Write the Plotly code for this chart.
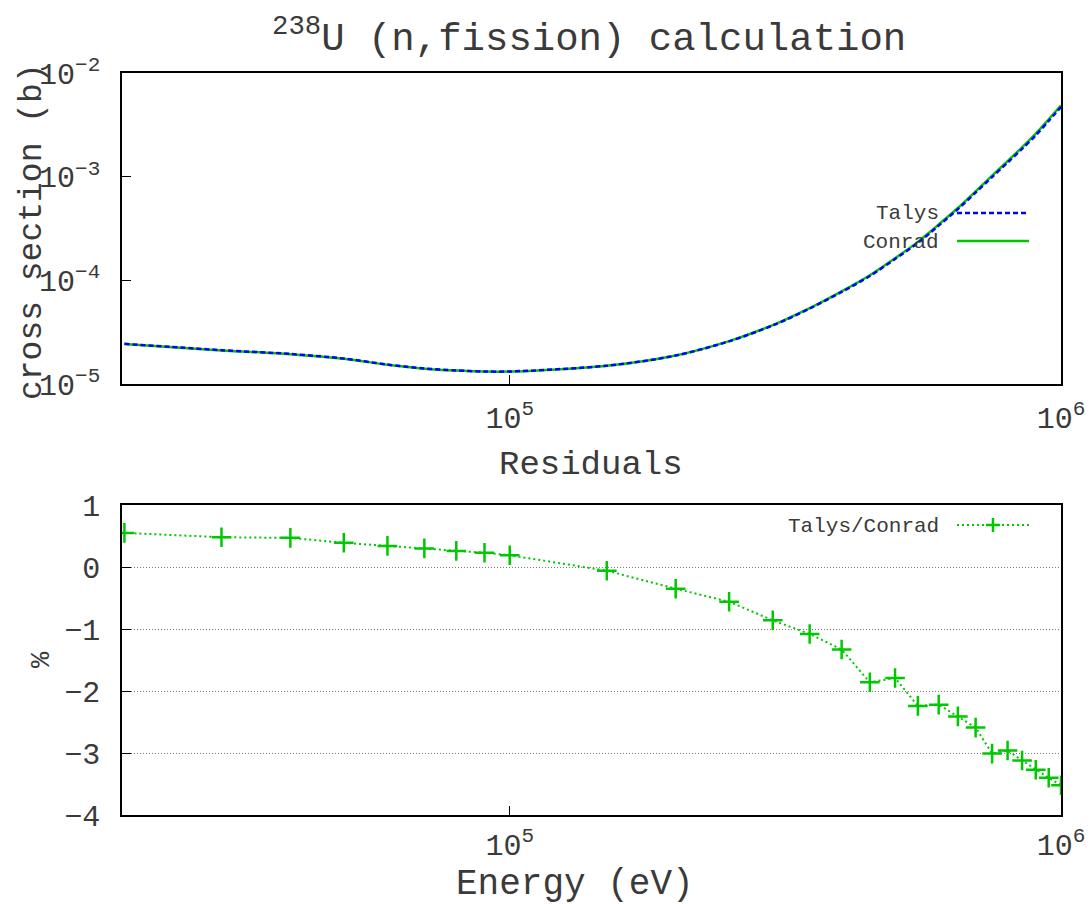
import numpy as np
import plotly.graph_objects as go

# Incident neutron energies (eV)
energy = [2e4, 3e4, 4e4, 5e4, 6e4, 7e4, 8e4, 9e4, 1e5,
          1.5e5, 2e5, 2.5e5, 3e5, 3.5e5, 4e5, 4.5e5, 5e5, 5.5e5,
          6e5, 6.5e5, 7e5, 7.5e5, 8e5, 8.5e5, 9e5, 9.5e5, 1e6]

# 238U (n,fission) cross sections (b)
talys_xs = [2.44e-5, 2.12e-5, 1.95e-5, 1.76e-5, 1.54e-5, 1.41e-5, 1.35e-5, 1.32e-5, 1.32e-5,
            1.50e-5, 1.88e-5, 2.58e-5, 3.67e-5, 5.34e-5, 7.73e-5, 1.10e-4, 1.605e-4, 2.297e-4,
            3.376e-4, 4.86e-4, 7.03e-4, 9.93e-4, 1.369e-3, 1.855e-3, 2.51e-3, 3.45e-3, 4.70e-3]
conrad_xs = [2.427e-5, 2.110e-5, 1.941e-5, 1.753e-5, 1.535e-5, 1.406e-5, 1.347e-5, 1.317e-5, 1.317e-5,
             1.501e-5, 1.887e-5, 2.595e-5, 3.702e-5, 5.398e-5, 7.834e-5, 1.121e-4, 1.634e-4, 2.350e-4,
             3.453e-4, 4.980e-4, 7.217e-4, 1.0238e-3, 1.4108e-3, 1.9147e-3, 2.595e-3, 3.571e-3, 4.871e-3]

# Talys/Conrad residuals (%)
residual_pct = [0.55, 0.48, 0.47, 0.39, 0.34, 0.30, 0.26, 0.23, 0.19,
                -0.06, -0.35, -0.56, -0.86, -1.08, -1.33, -1.86, -1.79, -2.24,
                -2.22, -2.41, -2.59, -3.01, -2.96, -3.12, -3.27, -3.40, -3.52]

x_ticks = [1e5, 1e6]
x_ticktext = ["10<sup>5</sup>", "10<sup>6</sup>"]
y_ticks_top = [1e-5, 1e-4, 1e-3, 1e-2]
y_ticktext_top = ["10<sup>\u22125</sup>", "10<sup>\u22124</sup>", "10<sup>\u22123</sup>", "10<sup>\u22122</sup>"]
y_ticks_bot = [1, 0, -1, -2, -3, -4]

W, H = 1091, 904
FONT = "Liberation Mono"
TXT = "#3a3a3a"
BLUE = "#0000ff"
GREEN = "#00c800"

def px(x):
    return x / W

def py(y):
    return 1 - y / H

xdom = [px(122), px(1061)]
top_dom = [py(384), py(73)]
bot_dom = [py(815), py(505)]

fig = go.Figure()

fig.add_trace(go.Scatter(x=energy, y=conrad_xs, mode="lines", name="Conrad",
                         line=dict(color=GREEN, width=2.5, shape="spline", smoothing=0.8),
                         xaxis="x", yaxis="y", showlegend=False))
fig.add_trace(go.Scatter(x=energy, y=talys_xs, mode="lines", name="Talys",
                         line=dict(color=BLUE, width=2.5, dash="5px,3px", shape="spline", smoothing=0.8),
                         xaxis="x", yaxis="y", showlegend=False))
fig.add_trace(go.Scatter(x=energy, y=residual_pct, mode="lines+markers", name="Talys/Conrad",
                         line=dict(color=GREEN, width=2, dash="2px,3px"),
                         marker=dict(symbol="cross-thin", size=14, line=dict(color=GREEN, width=2.5)),
                         xaxis="x2", yaxis="y2", showlegend=False))

xlog_range = [np.log10(1.98e4), 6]
common_axis = dict(showline=True, linecolor="black", linewidth=1.5, mirror=True,
                   ticks="inside", ticklen=9, tickwidth=1, tickcolor="black",
                   tickfont=dict(family=FONT, size=30, color=TXT), zeroline=False)

fig.update_layout(
    width=W, height=H,
    margin=dict(l=0, r=0, t=0, b=0, autoexpand=False),
    plot_bgcolor="white", paper_bgcolor="white",
    xaxis=dict(domain=xdom, anchor="y", type="log", range=xlog_range,
               tickvals=x_ticks, ticktext=x_ticktext, showgrid=False,
               ticklabelstandoff=6, **common_axis),
    yaxis=dict(domain=top_dom, anchor="x", type="log", range=[-5, -2],
               tickvals=y_ticks_top, ticktext=y_ticktext_top, showgrid=False,
               ticklabelstandoff=14, **common_axis),
    xaxis2=dict(domain=xdom, anchor="y2", type="log", range=xlog_range,
                tickvals=x_ticks, ticktext=x_ticktext, showgrid=False,
                ticklabelstandoff=2, **common_axis),
    yaxis2=dict(domain=bot_dom, anchor="x2", range=[-4, 1],
                tickvals=y_ticks_bot, showgrid=True, gridcolor="#7a7a7a",
                gridwidth=1, griddash="1px,2px", ticklabelstandoff=14, **common_axis),
)

annotations = [
    dict(text="<sup>238</sup>U (n,fission) calculation", x=px(589), y=py(37),
         font=dict(size=39, family=FONT, color=TXT)),
    dict(text="Residuals", x=px(591), y=py(465), font=dict(size=34, family=FONT, color=TXT)),
    dict(text="Energy (eV)", x=px(575), y=py(884), font=dict(size=36, family=FONT, color=TXT)),
    dict(text="cross section (b)", x=px(33), y=py(232), textangle=-90,
         font=dict(size=33, family=FONT, color=TXT)),
    dict(text="%", x=px(42), y=py(660), textangle=-90, font=dict(size=27, family=FONT, color=TXT)),
    dict(text="Talys", x=px(941), y=py(214), xanchor="right",
         font=dict(size=21, family=FONT, color=TXT)),
    dict(text="Conrad", x=px(941), y=py(242), xanchor="right",
         font=dict(size=21, family=FONT, color=TXT)),
    dict(text="Talys/Conrad", x=px(941), y=py(526), xanchor="right",
         font=dict(size=21, family=FONT, color=TXT)),
]
for a in annotations:
    a.setdefault("xanchor", "center")
    a.update(xref="paper", yref="paper", yanchor="middle", showarrow=False)
fig.update_layout(annotations=annotations)

# Legend keys, drawn to the right of the labels
shapes = [
    dict(type="line", x0=px(957), x1=px(1029), y0=py(213), y1=py(213),
         line=dict(color=BLUE, width=2.5, dash="5px,3px")),
    dict(type="line", x0=px(957), x1=px(1029), y0=py(241), y1=py(241),
         line=dict(color=GREEN, width=2.5)),
    dict(type="line", x0=px(957), x1=px(1029), y0=py(525), y1=py(525),
         line=dict(color=GREEN, width=2, dash="2px,3px")),
    dict(type="line", x0=px(986), x1=px(1000), y0=py(525), y1=py(525),
         line=dict(color=GREEN, width=2.5)),
    dict(type="line", x0=px(993), x1=px(993), y0=py(518), y1=py(532),
         line=dict(color=GREEN, width=2.5)),
]
for s in shapes:
    s.update(xref="paper", yref="paper")
fig.update_layout(shapes=shapes)

fig.write_html("out.html")
